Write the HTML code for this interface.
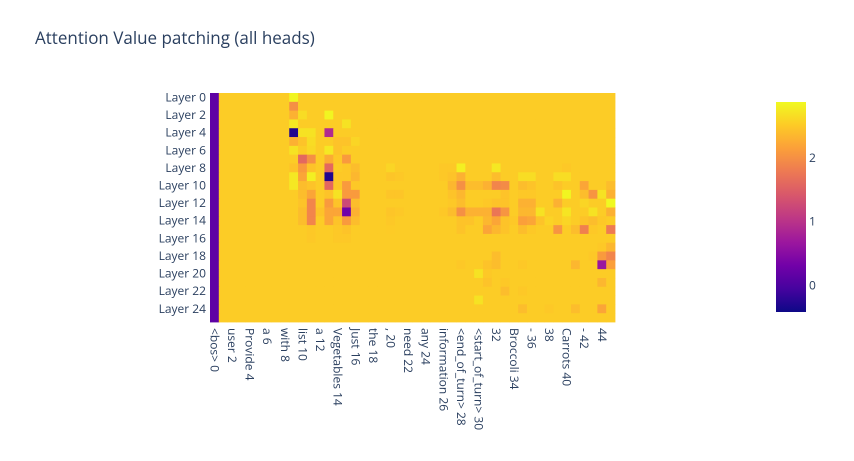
<!DOCTYPE html>
<html><head><meta charset="utf-8">
<style>
html,body{margin:0;padding:0;background:#fff;}
svg{display:block;font-family:"Open Sans","Liberation Sans",sans-serif;}
</style></head>
<body>
<svg id="chart" width="854" height="461" viewBox="0 0 854 461">
<rect width="854" height="461" fill="#fff"/>
<text x="35" y="44" font-size="17" fill="#2a3f5f">Attention Value patching (all heads)</text>
<g id="cells"></g>
<g id="ylabels"></g>
<g id="xlabels"></g>
<defs><linearGradient id="cbgrad" x1="0" y1="1" x2="0" y2="0">
<stop offset="0" stop-color="#0d0887"/><stop offset="0.111" stop-color="#46039f"/><stop offset="0.222" stop-color="#7201a8"/><stop offset="0.333" stop-color="#9c179e"/><stop offset="0.444" stop-color="#bd3786"/><stop offset="0.556" stop-color="#d8576b"/><stop offset="0.667" stop-color="#ed7953"/><stop offset="0.778" stop-color="#fb9f3a"/><stop offset="0.889" stop-color="#fdca26"/><stop offset="1" stop-color="#f0f921"/>
</linearGradient></defs>
<rect x="776" y="102" width="30" height="210" fill="url(#cbgrad)"/>
<g id="cbticks"></g>
</svg>
<script>
const layers = ["Layer 0","Layer 1","Layer 2","Layer 3","Layer 4","Layer 5","Layer 6","Layer 7","Layer 8","Layer 9","Layer 10","Layer 11","Layer 12","Layer 13","Layer 14","Layer 15","Layer 16","Layer 17","Layer 18","Layer 19","Layer 20","Layer 21","Layer 22","Layer 23","Layer 24","Layer 25"];
const tokens = ["<bos> 0","","user 2","","Provide 4","","a 6","","with 8","","list 10","","a 12","","Vegetables 14","","Just 16","","the 18","",", 20","","need 22","","any 24","","information 26","","<end_of_turn> 28","","<start_of_turn> 30","","32","","Broccoli 34","","- 36","","38","","Carrots 40","","- 42","","44",""];
const baseValue = 2.53;
const bosValues = [0.15,0.15,0.15,0.15,0.15,0.15,0.15,0.15,0.15,0.15,0.15,0.15,0.15,0.15,0.15,0.15,0.15,0.15,0.15,0.15,0.15,0.15,0.15,0.15,0.15,0.15];
// [row, col, value]
const cellOverrides = [
[0,9,2.85],[1,9,2.0],[2,9,2.3],[3,9,2.75],[4,9,-0.3],[5,9,2.3],[6,9,2.7],[8,9,2.45],[9,9,2.75],[10,9,2.75],
[2,10,2.65],[4,10,2.7],[5,10,2.45],[7,10,1.6],[8,10,2.1],[9,10,2.2],[10,10,2.4],[11,10,2.4],[12,10,2.45],[13,10,2.4],[14,10,2.4],
[4,11,2.7],[5,11,2.65],[6,11,2.62],[7,11,2.0],[8,11,2.45],[9,11,2.8],[10,11,2.45],[11,11,2.2],[12,11,1.9],[13,11,1.9],[14,11,1.9],[15,11,2.5],[16,11,2.5],
[13,12,2.45],
[2,13,2.85],[4,13,0.9],[6,13,2.75],[7,13,2.25],[8,13,1.6],[9,13,-0.3],[10,13,1.6],[11,13,2.45],[12,13,2.1],[13,13,2.2],[14,13,2.2],
[5,14,2.45],[6,14,2.45],[7,14,2.5],[9,14,2.5],[10,14,2.5],[11,14,2.7],[12,14,2.45],[13,14,2.2],[14,14,2.45],[15,14,2.5],[16,14,2.5],
[3,15,2.7],[5,15,2.45],[7,15,2.1],[8,15,2.5],[9,15,2.5],[10,15,2.1],[11,15,2.1],[12,15,1.25],[13,15,0.3],[14,15,2.1],[15,15,2.45],[16,15,2.5],
[5,16,2.6],[8,16,2.4],[9,16,2.35],[10,16,2.5],[11,16,2.1],[12,16,2.4],[13,16,2.3],[14,16,2.4],
[8,20,2.6],[9,20,2.47],[11,20,2.47],[13,20,2.47],[14,20,2.5],[15,20,2.52],
[9,21,2.5],[11,21,2.47],[13,21,2.5],
[8,26,2.5],[9,26,2.5],[13,26,2.5],
[8,27,2.5],[9,27,2.45],[10,27,2.35],[11,27,2.45],[12,27,2.5],[13,27,2.4],
[8,28,2.8],[9,28,2.3],[10,28,2.0],[11,28,2.35],[12,28,2.4],[13,28,2.0],[14,28,2.45],[15,28,2.45],[19,28,2.5],
[10,29,2.4],[13,29,2.3],[14,29,2.45],
[10,30,2.4],[13,30,2.3],[20,30,2.7],[23,30,2.7],
[10,31,2.3],[12,31,2.5],[13,31,2.3],[14,31,2.35],[15,31,2.2],[19,31,2.45],[20,31,2.5],[21,31,2.45],
[8,32,2.75],[9,32,2.4],[10,32,1.9],[12,32,2.45],[13,32,1.75],[14,32,2.2],[15,32,2.35],[18,32,2.4],[19,32,2.4],
[10,33,1.95],[11,33,2.45],[12,33,2.45],[13,33,2.05],[14,33,2.45],[15,33,2.45],[21,33,2.5],[22,33,2.4],
[14,34,2.5],
[9,35,2.66],[10,35,2.4],[11,35,2.5],[12,35,2.3],[13,35,2.35],[14,35,2.15],[15,35,2.4],[19,35,2.5],[22,35,2.5],[24,35,2.4],
[9,36,2.66],[10,36,2.45],[11,36,2.5],[12,36,2.3],[13,36,2.35],[14,36,2.2],[15,36,2.5],
[13,37,2.7],[14,37,2.45],
[14,38,2.58],[24,38,2.5],
[9,39,2.66],[10,39,2.45],[12,39,2.3],[15,39,2.05],
[8,40,2.5],[9,40,2.66],[11,40,2.85],[13,40,2.72],[14,40,2.6],
[15,41,2.4],[19,41,2.35],[24,41,2.4],
[10,42,2.2],[11,42,2.4],[12,42,2.6],[14,42,2.45],[15,42,1.85],
[11,43,2.05],[13,43,2.7],[14,43,2.4],[15,43,2.5],[18,43,2.5],
[11,44,2.7],[14,44,2.5],[17,44,2.5],[18,44,2.1],[19,44,0.65],[21,44,2.35],[24,44,2.2],
[10,45,2.4],[11,45,2.3],[12,45,2.9],[13,45,2.3],[15,45,1.8],[17,45,2.35],[18,45,1.9],[19,45,2.15]
];
const cbTickValues = [0,1,2];

const zmin = -0.42, zmax = 2.88;
const plot = {x:210, y:93, w:405, h:229};
const stops = ["#0d0887","#46039f","#7201a8","#9c179e","#bd3786","#d8576b","#ed7953","#fb9f3a","#fdca26","#f0f921"];
function hex(h){return [1,3,5].map(i=>parseInt(h.substr(i,2),16));}
function plasma(v){
  let t=Math.max(0,Math.min(1,(v-zmin)/(zmax-zmin)))*(stops.length-1);
  let i=Math.min(stops.length-2,Math.floor(t)), f=t-i;
  let a=hex(stops[i]), b=hex(stops[i+1]);
  return "rgb("+a.map((c,k)=>Math.round(c+(b[k]-c)*f)).join(",")+")";
}
const nR = layers.length, nC = tokens.length;
const cw = plot.w/nC, ch = plot.h/nR;
function xPos(c){return plot.x + c*cw;}
function yPos(r){return plot.y + r*ch;}
function cbY(v){return 312 - (v-zmin)/(zmax-zmin)*210;}
const values = [];
for(let r=0;r<nR;r++){const row=[];for(let c=0;c<nC;c++){row.push(c===0?bosValues[r]:baseValue);}values.push(row);}
cellOverrides.forEach(o=>{values[o[0]][o[1]]=o[2];});
const NS="http://www.w3.org/2000/svg";
const cells=document.getElementById('cells');
for(let r=0;r<nR;r++)for(let c=0;c<nC;c++){
  const el=document.createElementNS(NS,'rect');
  el.setAttribute('x',xPos(c).toFixed(2));
  el.setAttribute('y',yPos(r).toFixed(2));
  el.setAttribute('width',(cw+0.4).toFixed(2));
  el.setAttribute('height',(ch+0.4).toFixed(2));
  el.setAttribute('fill',plasma(values[r][c]));
  
  
  cells.appendChild(el);
}
const yl=document.getElementById('ylabels');
layers.forEach((l,r)=>{
  if(r%2) return;
  const t=document.createElementNS(NS,'text');
  t.setAttribute('x',206);t.setAttribute('y',(yPos(r)+ch/2+4).toFixed(1));
  t.setAttribute('text-anchor','end');t.setAttribute('font-size','12');t.setAttribute('fill','#2a3f5f');
  t.textContent=l;
  
  
  yl.appendChild(t);
});
const xl=document.getElementById('xlabels');
tokens.forEach((l,c)=>{
  if(!l) return;
  const t=document.createElementNS(NS,'text');
  const x=xPos(c)+cw/2-4, y=plot.y+plot.h+6;
  t.setAttribute('transform','translate('+x.toFixed(1)+','+y+') rotate(90)');
  t.setAttribute('font-size','12');t.setAttribute('fill','#2a3f5f');
  t.textContent=l;
  
  
  xl.appendChild(t);
});
const cb=document.getElementById('cbticks');
cbTickValues.forEach(v=>{
  const t=document.createElementNS(NS,'text');
  t.setAttribute('x',809);t.setAttribute('y',(cbY(v)+4).toFixed(1));
  t.setAttribute('font-size','12');t.setAttribute('fill','#2a3f5f');
  t.textContent=String(v);
  
  
  cb.appendChild(t);
});
</script>
</body></html>
